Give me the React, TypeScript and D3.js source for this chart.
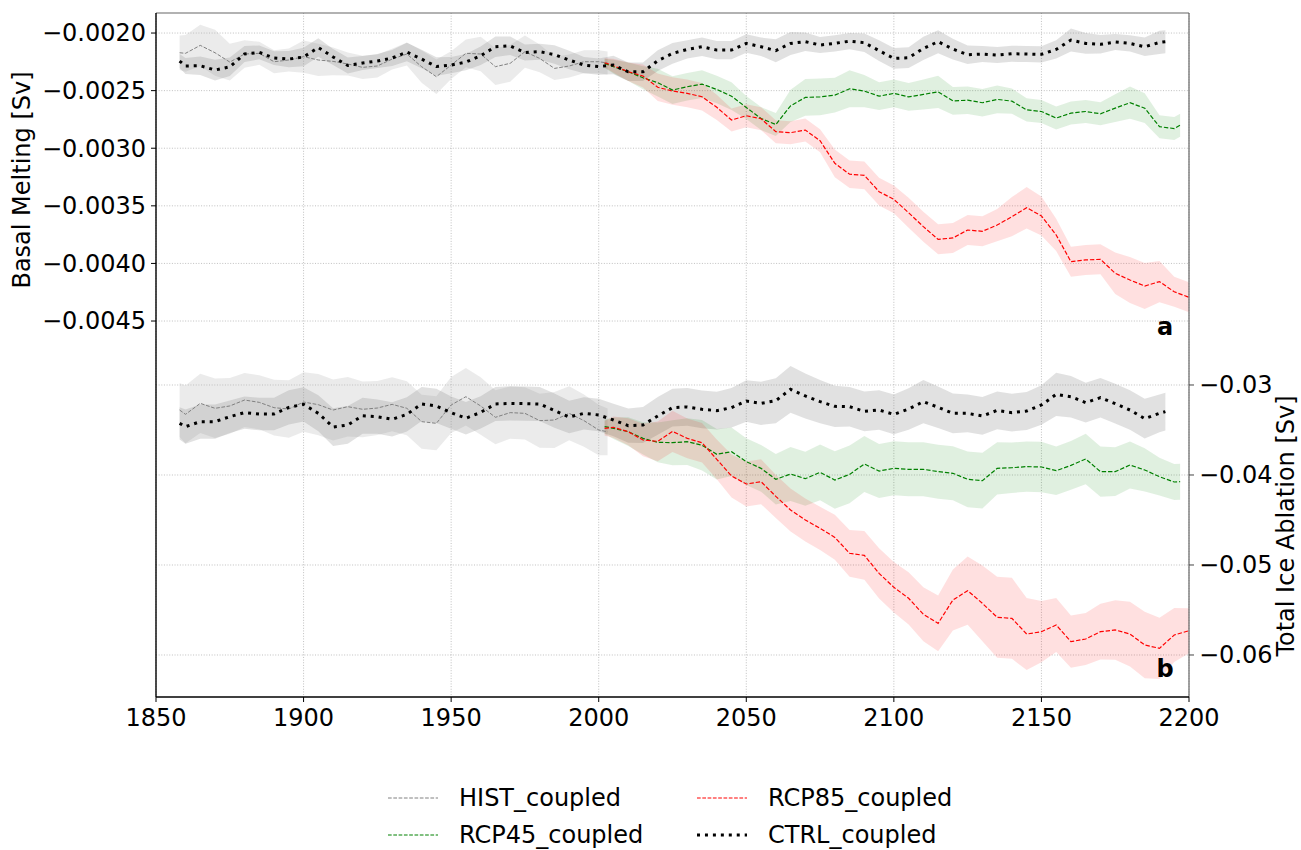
import React from "react";
import * as d3 from "d3";

// years for each run (5-year samples of the running means)
const histYears = [1858, 1860, 1865, 1870, 1875, 1880, 1885, 1890, 1895, 1900, 1905, 1910, 1915, 1920, 1925, 1930,
  1935, 1940, 1945, 1950, 1955, 1960, 1965, 1970, 1975, 1980, 1985, 1990, 1995, 2000, 2003];
const ctrlYears = [1858, 1860, 1865, 1870, 1875, 1880, 1885, 1890, 1895, 1900, 1905, 1910, 1915, 1920, 1925, 1930,
  1935, 1940, 1945, 1950, 1955, 1960, 1965, 1970, 1975, 1980, 1985, 1990, 1995, 2000, 2005, 2010, 2015, 2020, 2025,
  2030, 2035, 2040, 2045, 2050, 2055, 2060, 2065, 2070, 2075, 2080, 2085, 2090, 2095, 2100, 2105, 2110, 2115, 2120,
  2125, 2130, 2135, 2140, 2145, 2150, 2155, 2160, 2165, 2170, 2175, 2180, 2185, 2190, 2192];
const rcp45Years = [2002, 2005, 2010, 2015, 2020, 2025, 2030, 2035, 2040, 2045, 2050, 2055, 2060, 2065, 2070, 2075,
  2080, 2085, 2090, 2095, 2100, 2105, 2110, 2115, 2120, 2125, 2130, 2135, 2140, 2145, 2150, 2155, 2160, 2165, 2170,
  2175, 2180, 2185, 2190, 2195, 2197];
const rcp85Years = [2002, 2005, 2010, 2015, 2020, 2025, 2030, 2035, 2040, 2045, 2050, 2055, 2060, 2065, 2070, 2075,
  2080, 2085, 2090, 2095, 2100, 2105, 2110, 2115, 2120, 2125, 2130, 2135, 2140, 2145, 2150, 2155, 2160, 2165, 2170,
  2175, 2180, 2185, 2190, 2195, 2200];

// panel a: basal melting [Sv]
const histMelt = [-0.002171, -0.002176, -0.002107, -0.002171, -0.002252, -0.002182, -0.002176, -0.002249, -0.002234,
  -0.002205, -0.002234, -0.002246, -0.002269, -0.002298, -0.002286, -0.002226, -0.002182, -0.002292, -0.002379,
  -0.002278, -0.002176, -0.002182, -0.002292, -0.002263, -0.002162, -0.00222, -0.002307, -0.002286, -0.002249,
  -0.002249, -0.00226];
const histMeltSpread = [0.00015, 0.00016, 0.00018, 0.0002, 0.00016, 0.00012, 0.0001, 0.0001, 0.0001, 0.00014,
  0.00014, 0.00012, 0.0001, 0.0001, 0.0001, 0.00009, 0.0001, 0.00014, 0.00015, 0.00012,
  0.00012, 0.00015, 0.00016, 0.00016, 0.00014, 0.00012, 0.0001, 0.0001, 0.0001, 0.0001, 0.0001];
const ctrlMelt = [-0.002243, -0.002286, -0.002284, -0.002321, -0.002293, -0.002182, -0.002168, -0.002217, -0.002226,
  -0.002208, -0.002126, -0.002208, -0.002282, -0.00226, -0.002243, -0.002217, -0.002165, -0.002226, -0.002291,
  -0.002278, -0.002252, -0.002197, -0.002119, -0.002111, -0.002169, -0.002162, -0.002187, -0.002234, -0.002278,
  -0.002291, -0.002278, -0.002336, -0.002336, -0.00224, -0.002177, -0.002142, -0.002119, -0.002148, -0.002148,
  -0.00209, -0.002119, -0.002153, -0.00209, -0.002075, -0.002104, -0.00209, -0.00207, -0.002084, -0.002153,
  -0.00222, -0.002214, -0.002133, -0.002075, -0.002139, -0.002188, -0.002182, -0.002191, -0.00218, -0.002182,
  -0.002185, -0.002142, -0.002061, -0.00209, -0.002098, -0.002078, -0.00209, -0.002119, -0.002081, -0.002075];
const ctrlMeltSpread = [0.00006, 0.00007, 0.00008, 0.00009, 0.00008, 0.00007, 0.00006, 0.00006, 0.00007, 0.00008,
  0.00008, 0.00007, 0.00007, 0.00006, 0.00006, 0.00007, 0.00008, 0.00008, 0.00008, 0.00007,
  0.00007, 0.00008, 0.00009, 0.00008, 0.00007, 0.00007, 0.00008, 0.00008, 0.00007, 0.00007,
  0.00008, 0.00008, 0.00008, 0.00009, 0.00009, 0.00008, 0.00008, 0.00008, 0.00008, 0.00008,
  0.00008, 0.0001, 0.0001, 0.00008, 0.00007, 0.00007, 0.00007, 0.00008, 0.00009, 0.00009,
  0.00009, 0.0001, 0.0001, 0.00009, 0.00008, 0.00007, 0.00007, 0.00007, 0.00007, 0.00007,
  0.00008, 0.0001, 0.00009, 0.00008, 0.00007, 0.00007, 0.00008, 0.0001, 0.0001];
const rcp45Melt = [-0.002263, -0.002292, -0.002336, -0.002388, -0.002431, -0.002495, -0.002466, -0.002443, -0.00249,
  -0.002548, -0.002646, -0.002742, -0.002794, -0.002632, -0.002559, -0.002554, -0.002539, -0.002484, -0.002504,
  -0.002548, -0.002524, -0.002554, -0.002533, -0.00251, -0.002589, -0.002583, -0.002605, -0.002576, -0.002591,
  -0.002667, -0.002681, -0.002738, -0.002695, -0.002681, -0.002701, -0.002652, -0.002605, -0.002652, -0.002813,
  -0.002829, -0.0028];
const rcp45MeltSpread = [0.00004, 0.00006, 0.00008, 0.0001, 0.00012, 0.00012, 0.00012, 0.00012, 0.00012, 0.00012,
  0.0001, 0.0001, 0.0001, 0.00014, 0.00016, 0.00016, 0.00015, 0.00016, 0.00014, 0.00012,
  0.00012, 0.00012, 0.00013, 0.00014, 0.00012, 0.00012, 0.00012, 0.00012, 0.00011, 0.0001,
  0.0001, 0.0001, 0.0001, 0.0001, 0.0001, 0.00012, 0.00014, 0.00013, 0.0001, 0.0001, 0.0001];
const rcp85Melt = [-0.002258, -0.002284, -0.002336, -0.002373, -0.002471, -0.002503, -0.002524, -0.002553, -0.002645,
  -0.002755, -0.002718, -0.002744, -0.002856, -0.002865, -0.002842, -0.002935, -0.003131, -0.003226, -0.003235,
  -0.003377, -0.003444, -0.00356, -0.003681, -0.003791, -0.003779, -0.00371, -0.003721, -0.003667, -0.003594,
  -0.003516, -0.003588, -0.003753, -0.003985, -0.00397, -0.003964, -0.004086, -0.004144, -0.004196, -0.004158,
  -0.004246, -0.004294];
const rcp85MeltSpread = [0.00004, 0.00006, 0.00008, 0.0001, 0.00012, 0.00012, 0.00012, 0.00012, 0.00011, 0.0001,
  0.0001, 0.0001, 0.0001, 0.0001, 0.0001, 0.0001, 0.00012, 0.00012, 0.00012, 0.00012,
  0.00012, 0.00013, 0.00013, 0.00013, 0.00013, 0.00013, 0.00013, 0.00014, 0.00017, 0.00018,
  0.00017, 0.00014, 0.00013, 0.00013, 0.00013, 0.00018, 0.0002, 0.0002, 0.00018, 0.00013, 0.00013];

// panel b: total ice ablation [Sv]
const histAbl = [-0.03278, -0.03326, -0.03204, -0.03259, -0.03233, -0.03167, -0.03193, -0.03252, -0.03267, -0.03189,
  -0.03219, -0.03278, -0.03241, -0.0327, -0.03256, -0.03215, -0.03259, -0.03407, -0.03426, -0.03222,
  -0.0313, -0.03233, -0.03359, -0.03307, -0.03315, -0.03396, -0.03389, -0.03315, -0.03396, -0.035, -0.0352];
const histAblSpread = [0.003, 0.0032, 0.0033, 0.0033, 0.0031, 0.003, 0.003, 0.0031, 0.0032, 0.0033,
  0.0034, 0.0034, 0.0033, 0.0031, 0.003, 0.003, 0.003, 0.003, 0.003, 0.0031,
  0.0032, 0.0032, 0.003, 0.0029, 0.0029, 0.003, 0.0031, 0.003, 0.0029, 0.0028, 0.0026];
const ctrlAbl = [-0.03426, -0.03463, -0.03407, -0.03407, -0.03352, -0.03307, -0.03322, -0.03322, -0.03248, -0.03215,
  -0.03315, -0.03467, -0.03444, -0.03341, -0.03352, -0.03381, -0.03326, -0.03211, -0.03233, -0.03307,
  -0.0337, -0.03304, -0.03211, -0.03204, -0.03207, -0.03211, -0.03285, -0.03356, -0.03315, -0.03333,
  -0.03389, -0.03452, -0.03444, -0.03344, -0.03252, -0.03244, -0.0327, -0.03285, -0.03252, -0.03178,
  -0.03204, -0.03174, -0.03048, -0.03122, -0.03185, -0.03237, -0.03241, -0.03293, -0.03278, -0.03326,
  -0.03267, -0.03185, -0.03248, -0.03315, -0.03315, -0.03344, -0.03282, -0.03307, -0.03289, -0.03222,
  -0.03104, -0.0313, -0.03196, -0.03141, -0.03207, -0.03278, -0.03374, -0.03315, -0.03296];
const ctrlAblSpread = [0.0018, 0.0019, 0.0019, 0.0019, 0.0018, 0.0018, 0.0018, 0.0018, 0.0019, 0.0019,
  0.002, 0.0021, 0.0021, 0.002, 0.0019, 0.0019, 0.0019, 0.0019, 0.0019, 0.0018,
  0.0018, 0.0018, 0.0019, 0.0019, 0.0019, 0.0019, 0.0019, 0.0018, 0.0018, 0.0018,
  0.0018, 0.0019, 0.002, 0.0021, 0.0021, 0.0021, 0.0021, 0.0021, 0.0022, 0.0023,
  0.0024, 0.0025, 0.0026, 0.0025, 0.0024, 0.0023, 0.0022, 0.0022, 0.0022, 0.0022,
  0.0023, 0.0024, 0.0023, 0.0022, 0.0021, 0.0021, 0.0021, 0.0021, 0.0021, 0.0022,
  0.0024, 0.0023, 0.0022, 0.0022, 0.0022, 0.0022, 0.0022, 0.0021, 0.0021];
const rcp45Abl = [-0.03463, -0.03481, -0.03519, -0.03593, -0.03637, -0.03641, -0.0363, -0.0367, -0.0377, -0.03741,
  -0.03852, -0.03926, -0.04048, -0.03989, -0.04041, -0.0397, -0.04056, -0.03993, -0.03878, -0.03956,
  -0.03926, -0.03937, -0.03937, -0.03963, -0.03981, -0.04048, -0.04063, -0.03926, -0.03919, -0.03907,
  -0.03911, -0.03952, -0.03893, -0.03822, -0.03963, -0.03963, -0.03889, -0.03944, -0.04019, -0.04078, -0.04074];
const rcp45AblSpread = [0.0008, 0.0012, 0.0016, 0.0018, 0.0022, 0.0025, 0.0026, 0.0028, 0.0028, 0.0027,
  0.0026, 0.0026, 0.0028, 0.003, 0.003, 0.0031, 0.0032, 0.0032, 0.0031, 0.003,
  0.003, 0.003, 0.003, 0.003, 0.003, 0.0031, 0.0031, 0.0029, 0.0028, 0.0028,
  0.0028, 0.0027, 0.0027, 0.0028, 0.0028, 0.0027, 0.0026, 0.0024, 0.0021, 0.002, 0.002];
const rcp85Abl = [-0.03481, -0.0347, -0.03519, -0.03611, -0.03626, -0.03515, -0.03593, -0.03641, -0.03826, -0.04011,
  -0.041, -0.04074, -0.04237, -0.04389, -0.045, -0.04593, -0.04693, -0.0487, -0.04893, -0.05093,
  -0.05248, -0.0537, -0.05548, -0.05648, -0.05389, -0.05285, -0.05426, -0.05581, -0.05593, -0.05767,
  -0.05741, -0.05667, -0.05852, -0.05822, -0.05741, -0.05722, -0.05767, -0.05889, -0.05926, -0.05778, -0.0573];
const rcp85AblSpread = [0.0008, 0.0012, 0.0015, 0.0018, 0.0022, 0.0023, 0.0022, 0.0022, 0.0022, 0.0024,
  0.0025, 0.0025, 0.0024, 0.0024, 0.0024, 0.0024, 0.0025, 0.0026, 0.0027, 0.0028,
  0.0028, 0.0029, 0.003, 0.0031, 0.0034, 0.0038, 0.0042, 0.0045, 0.0045, 0.004,
  0.0034, 0.003, 0.0029, 0.0029, 0.0031, 0.0033, 0.0036, 0.0037, 0.0034, 0.003, 0.0025];

const xTicks = [1850, 1900, 1950, 2000, 2050, 2100, 2150, 2200];
const meltTicks = [-0.002, -0.0025, -0.003, -0.0035, -0.004, -0.0045];
const ablTicks = [-0.03, -0.04, -0.05, -0.06];

const legendItems = [
  { label: "HIST_coupled", color: "grey", dash: "3.7,1.6", width: 1 },
  { label: "RCP45_coupled", color: "green", dash: "3.7,1.6", width: 1 },
  { label: "RCP85_coupled", color: "red", dash: "3.7,1.6", width: 1 },
  { label: "CTRL_coupled", color: "black", dash: "3,4.95", width: 3 },
];

interface Pt {
  year: number;
  v: number;
  lo: number;
  hi: number;
}

const mk = (years: number[], mean: number[], spread: number[]): Pt[] =>
  years.map((yr, i) => ({ year: yr, v: mean[i], lo: mean[i] - spread[i], hi: mean[i] + spread[i] }));

const font = "DejaVu Sans, sans-serif";

function App() {
  const W = 1301;
  const H = 850;
  const left = 156, right = 1189, top = 13, bottom = 697;

  const x = d3.scaleLinear().domain([1850, 2200]).range([left, right]);
  const yMelt = d3.scaleLinear().domain([-0.007764, -0.001826]).range([bottom, top]);
  const yAbl = d3.scaleLinear().domain([-0.064667, 0.011333]).range([bottom, top]);

  const panels = [
    {
      y: yMelt,
      hist: mk(histYears, histMelt, histMeltSpread),
      ctrl: mk(ctrlYears, ctrlMelt, ctrlMeltSpread),
      r45: mk(rcp45Years, rcp45Melt, rcp45MeltSpread),
      r85: mk(rcp85Years, rcp85Melt, rcp85MeltSpread),
    },
    {
      y: yAbl,
      hist: mk(histYears, histAbl, histAblSpread),
      ctrl: mk(ctrlYears, ctrlAbl, ctrlAblSpread),
      r45: mk(rcp45Years, rcp45Abl, rcp45AblSpread),
      r85: mk(rcp85Years, rcp85Abl, rcp85AblSpread),
    },
  ];

  const fmtMelt = d3.format(".4f");
  const fmtAbl = d3.format(".2f");

  return (
    <svg width={W} height={H} style={{ position: "absolute", left: 0, top: 0, background: "#fff" }} fontFamily={font}>
      <defs>
        <clipPath id="plot">
          <rect x={left} y={top} width={right - left} height={bottom - top} />
        </clipPath>
      </defs>

      {/* grid */}
      <g stroke="#b0b0b0" strokeWidth={0.8} strokeDasharray="1,1.65">
        {xTicks.map((t) => (
          <line key={"gx" + t} x1={x(t)} x2={x(t)} y1={top} y2={bottom} />
        ))}
        {meltTicks.map((t) => (
          <line key={"gm" + t} x1={left} x2={right} y1={yMelt(t)} y2={yMelt(t)} />
        ))}
        {ablTicks.map((t) => (
          <line key={"ga" + t} x1={left} x2={right} y1={yAbl(t)} y2={yAbl(t)} />
        ))}
      </g>

      <g clipPath="url(#plot)">
        {panels.map((p, i) => {
          const area = d3
            .area<Pt>()
            .x((d) => x(d.year))
            .y0((d) => p.y(d.lo))
            .y1((d) => p.y(d.hi));
          const line = d3
            .line<Pt>()
            .x((d) => x(d.year))
            .y((d) => p.y(d.v));
          return (
            <g key={i}>
              <path d={area(p.hist) || ""} fill="#bdbdbd" fillOpacity={0.3} />
              <path d={area(p.ctrl) || ""} fill="grey" fillOpacity={0.24} />
              <path d={area(p.r45) || ""} fill="green" fillOpacity={0.12} />
              <path d={area(p.r85) || ""} fill="red" fillOpacity={0.12} />
              <path d={line(p.hist) || ""} fill="none" stroke="grey" strokeWidth={1} strokeDasharray="3.7,1.6" />
              <path d={line(p.r45) || ""} fill="none" stroke="green" strokeWidth={1.2} strokeDasharray="4.4,1.9" />
              <path d={line(p.r85) || ""} fill="none" stroke="red" strokeWidth={1.2} strokeDasharray="4.4,1.9" />
              <path d={line(p.ctrl) || ""} fill="none" stroke="black" strokeWidth={3} strokeDasharray="3,4.95" />
            </g>
          );
        })}
      </g>

      {/* spines */}
      <line x1={left} x2={right} y1={top} y2={top} stroke="#666" strokeWidth={1.2} />
      <line x1={right} x2={right} y1={top} y2={bottom} stroke="#666" strokeWidth={1.2} />
      <line x1={left} x2={left} y1={top} y2={bottom} stroke="#000" strokeWidth={1.4} />
      <line x1={left} x2={right} y1={bottom} y2={bottom} stroke="#000" strokeWidth={1.4} />

      {/* x axis */}
      {xTicks.map((t) => (
        <g key={"xt" + t}>
          <line x1={x(t)} x2={x(t)} y1={bottom} y2={bottom + 5} stroke="#000" strokeWidth={1} />
          <text x={x(t)} y={726} fontSize={24} textAnchor="middle">
            {t}
          </text>
        </g>
      ))}

      {/* left axis */}
      {meltTicks.map((t) => (
        <g key={"mt" + t}>
          <line x1={left - 5} x2={left} y1={yMelt(t)} y2={yMelt(t)} stroke="#000" strokeWidth={1} />
          <text x={left - 10} y={yMelt(t)} dy="0.35em" fontSize={24} textAnchor="end">
            {fmtMelt(t)}
          </text>
        </g>
      ))}
      <text transform="translate(22,180) rotate(-90)" fontSize={24} textAnchor="middle" dy="0.35em">
        Basal Melting [Sv]
      </text>

      {/* right axis */}
      {ablTicks.map((t) => (
        <g key={"at" + t}>
          <line x1={right} x2={right + 5} y1={yAbl(t)} y2={yAbl(t)} stroke="#444" strokeWidth={1} />
          <text x={right + 10} y={yAbl(t)} dy="0.35em" fontSize={24} textAnchor="start">
            {fmtAbl(t)}
          </text>
        </g>
      ))}
      <text transform="translate(1286,526) rotate(-90)" fontSize={24} textAnchor="middle" dy="0.35em">
        Total Ice Ablation [Sv]
      </text>

      {/* panel letters */}
      <text x={1165} y={335} fontSize={24} fontWeight="bold" textAnchor="middle">a</text>
      <text x={1165} y={677} fontSize={24} fontWeight="bold" textAnchor="middle">b</text>

      {/* legend */}
      {legendItems.map((it, i) => {
        const col = Math.floor(i / 2);
        const row = i % 2;
        const lx = col === 0 ? 388 : 697;
        const ly = row === 0 ? 798 : 835;
        return (
          <g key={it.label}>
            <line x1={lx} x2={lx + 50} y1={ly} y2={ly} stroke={it.color} strokeWidth={it.width} strokeDasharray={it.dash} />
            <text x={lx + 71} y={ly} dy="0.35em" fontSize={24}>
              {it.label}
            </text>
          </g>
        );
      })}
    </svg>
  );
}

export default App;
